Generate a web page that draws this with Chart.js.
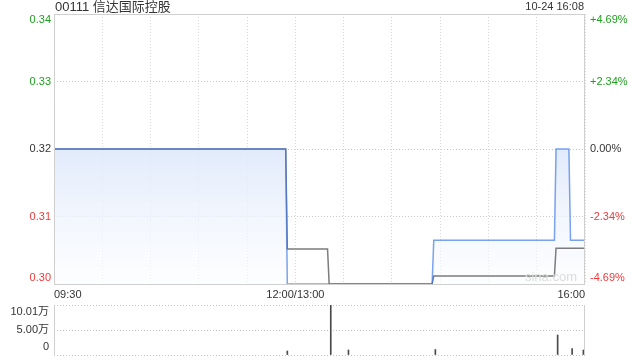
<!DOCTYPE html>
<html lang="zh">
<head>
<meta charset="UTF-8">
<title>00111 信达国际控股</title>
<script src="https://cdn.jsdelivr.net/npm/chart.js"></script>
<style>
  body { margin: 0; background: #fff; }
  #wrap { position: relative; width: 640px; height: 360px; }
  canvas { position: absolute; left: 0; }
</style>
</head>
<body>
<div id="wrap">
  <canvas id="priceChart" width="640" height="300" style="top:0"></canvas>
  <canvas id="volChart" width="640" height="60" style="top:300px"></canvas>
</div>
<script>
// minutes after 09:30 (lunch break removed, 330 = 16:00)
const priceTimes = [0, 144, 145, 235, 236, 311, 312, 320, 321, 330];
const priceValues = [0.32, 0.32, 0.30, 0.30, 0.3065, 0.3065, 0.32, 0.32, 0.3065, 0.3065];
const avgTimes = [0, 144, 145, 170, 171, 235, 236, 311, 312, 330];
const avgValues = [0.32, 0.32, 0.3052, 0.3052, 0.30, 0.30, 0.3012, 0.3012, 0.3053, 0.3053];
const volTimes = [145, 172, 183, 237, 313, 322, 329];
const volValues = [0.8, 10.01, 1.0, 1.1, 4.0, 1.3, 1.0]; // 万

const priceTicks = [0.30, 0.31, 0.32, 0.33, 0.34];
const priceLabels = ['0.30', '0.31', '0.32', '0.33', '0.34'];
const pctLabels = ['-4.69%', '-2.34%', '0.00%', '+2.34%', '+4.69%'];
const volTicks = [0, 5.00, 10.01];
const volLabels = ['0', '5.00万', '10.01万'];
const timeLabels = { 0: '09:30', 150: '12:00/13:00', 330: '16:00' };

const FONT = '"Liberation Sans", Arial, "Noto Sans CJK SC", sans-serif';
const GREEN = '#20a020', RED = '#f03a3a', DARK = '#333';

function tickColor(i) {
  if (i > 2) return GREEN;
  if (i < 2) return RED;
  return DARK;
}

const pricePlugin = {
  id: 'priceDeco',
  afterDraw(chart) {
    const ctx = chart.ctx, a = chart.chartArea, y = chart.scales.y;
    ctx.save();
    // frame
    ctx.strokeStyle = '#cfcfcf';
    ctx.lineWidth = 1;
    ctx.strokeRect(Math.round(a.left) + 0.5, Math.round(a.top) + 0.5,
      Math.round(a.right - a.left) - 1, Math.round(a.bottom - a.top));
    // title and time
    ctx.textBaseline = 'middle';
    ctx.fillStyle = DARK;
    ctx.font = '13px ' + FONT;
    ctx.textAlign = 'left';
    ctx.fillText('00111 信达国际控股', 55, 7);
    ctx.font = '11px ' + FONT;
    ctx.textAlign = 'right';
    ctx.fillText('10-24 16:08', 584, 7);
    // axis labels
    priceTicks.forEach((v, i) => {
      let py = y.getPixelForValue(v);
      py = Math.min(Math.max(py, a.top + 6), a.bottom - 6);
      ctx.fillStyle = tickColor(i);
      ctx.textAlign = 'right';
      ctx.fillText(priceLabels[i], 51, py);
      ctx.textAlign = 'left';
      ctx.fillText(pctLabels[i], 590, py);
    });
    // watermark
    ctx.fillStyle = '#dcdcdc';
    ctx.font = '13px ' + FONT;
    ctx.textAlign = 'right';
    ctx.fillText('sina.com', 577, 277);
    ctx.restore();
  }
};

new Chart(document.getElementById('priceChart'), {
  type: 'line',
  data: {
    datasets: [{
      label: '价格',
      data: priceTimes.map((t, i) => ({ x: t, y: priceValues[i] })),
      borderColor: 'rgba(60,120,230,0.68)',
      borderWidth: 1.5,
      pointRadius: 0,
      tension: 0,
      fill: 'start',
      backgroundColor: (c) => {
        const ch = c.chart;
        if (!ch.chartArea) return 'rgba(230,238,252,0.8)';
        const ys = ch.scales.y;
        const g = ch.ctx.createLinearGradient(0, ys.getPixelForValue(0.32), 0, ch.chartArea.bottom);
        g.addColorStop(0, 'rgba(222,233,251,0.9)');
        g.addColorStop(1, 'rgba(252,253,255,0.6)');
        return g;
      }
    }, {
      label: '均价',
      data: avgTimes.map((t, i) => ({ x: t, y: avgValues[i] })),
      borderColor: '#7c7c7c',
      borderWidth: 1.5,
      pointRadius: 0,
      tension: 0,
      fill: false
    }]
  },
  options: {
    responsive: false,
    animation: false,
    layout: { padding: { top: 14, right: 55, left: 0, bottom: 0 } },
    plugins: {
      legend: { display: false },
      tooltip: { enabled: false },
      filler: { drawTime: 'beforeDatasetsDraw' }
    },
    scales: {
      x: {
        type: 'linear', min: 0, max: 330,
        border: { display: false, dash: [1, 2] },
        grid: { color: '#d8d8d8', drawTicks: false },
        afterBuildTicks: (s) => { s.ticks = []; for (let t = 0; t <= 330; t += 30) s.ticks.push({ value: t }); },
        afterFit: (s) => { s.height = 16; },
        ticks: {
          align: 'inner', padding: 4, color: DARK, autoSkip: false, maxRotation: 0,
          font: { size: 11, family: FONT },
          callback: (v) => timeLabels[v] || ''
        }
      },
      y: {
        min: 0.30, max: 0.34,
        border: { display: false, dash: [1, 2] },
        grid: { color: '#c8c8c8', drawTicks: false },
        afterBuildTicks: (s) => { s.ticks = priceTicks.map(v => ({ value: v })); },
        afterFit: (s) => { s.width = 54; },
        ticks: { display: false }
      }
    }
  },
  plugins: [pricePlugin]
});

const volPlugin = {
  id: 'volDeco',
  afterDraw(chart) {
    const ctx = chart.ctx, a = chart.chartArea, y = chart.scales.y;
    ctx.save();
    ctx.strokeStyle = '#cfcfcf';
    ctx.lineWidth = 1;
    ctx.beginPath();
    ctx.moveTo(Math.round(a.left) + 0.5, a.top);
    ctx.lineTo(Math.round(a.left) + 0.5, a.bottom + 1);
    ctx.moveTo(Math.round(a.right) - 0.5, a.top);
    ctx.lineTo(Math.round(a.right) - 0.5, a.bottom + 1);
    ctx.stroke();
    ctx.font = '11px ' + FONT;
    ctx.fillStyle = DARK;
    ctx.textAlign = 'right';
    ctx.textBaseline = 'middle';
    volTicks.forEach((v, i) => {
      let py = y.getPixelForValue(v);
      py = Math.min(Math.max(py, a.top + 7), a.bottom - 8);
      ctx.fillText(volLabels[i], 49, py);
    });
    ctx.restore();
  }
};

new Chart(document.getElementById('volChart'), {
  type: 'bar',
  data: {
    datasets: [{
      label: '成交量',
      data: volTimes.map((t, i) => ({ x: t, y: volValues[i] })),
      backgroundColor: '#4a4a4a',
      barThickness: 1
    }]
  },
  options: {
    responsive: false,
    animation: false,
    layout: { padding: { top: 5, right: 55, left: 0, bottom: 0 } },
    plugins: { legend: { display: false }, tooltip: { enabled: false } },
    scales: {
      x: {
        type: 'linear', min: 0, max: 330, offset: false,
        grid: { display: false },
        border: { display: false },
        ticks: { display: false },
        afterFit: (s) => { s.height = 5; }
      },
      y: {
        min: 0, max: 10.01,
        border: { display: false, dash: [1, 2] },
        grid: { color: '#c4c4c4', drawTicks: false },
        afterBuildTicks: (s) => { s.ticks = volTicks.map(v => ({ value: v })); },
        afterFit: (s) => { s.width = 54; },
        ticks: { display: false }
      }
    }
  },
  plugins: [volPlugin]
});
</script>
</body>
</html>
